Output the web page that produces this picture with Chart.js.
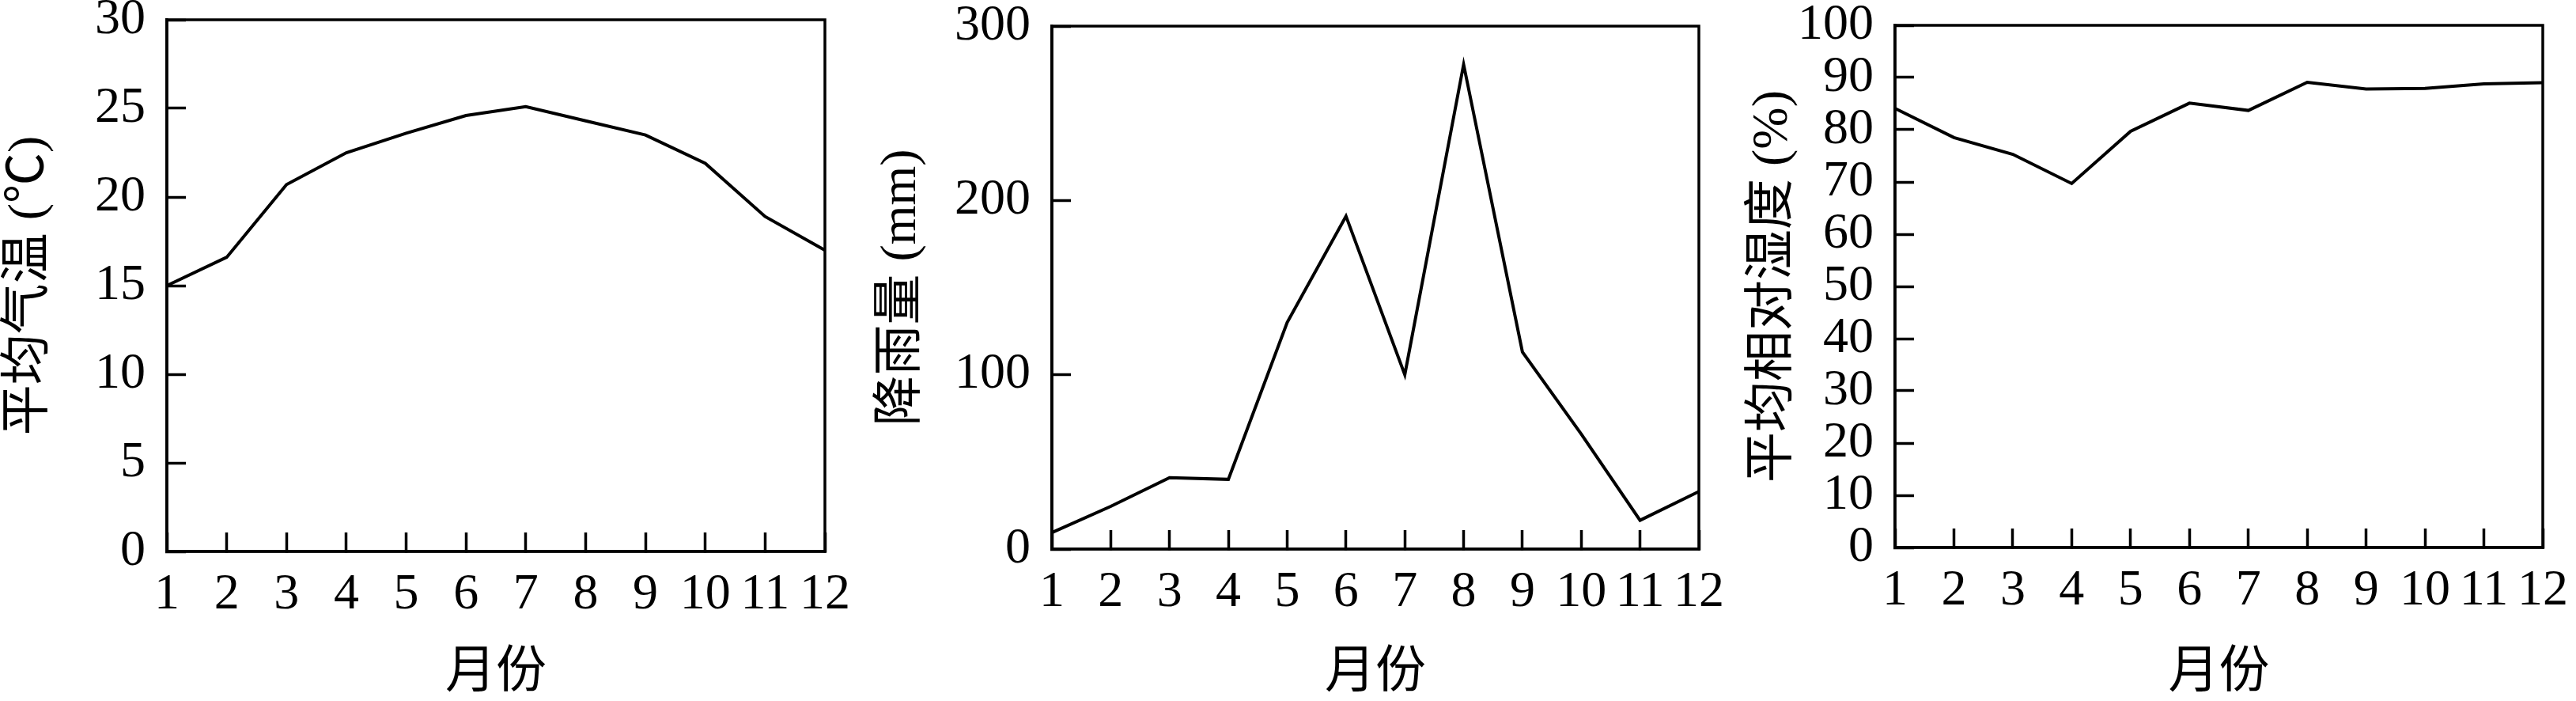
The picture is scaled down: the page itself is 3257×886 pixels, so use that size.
<!DOCTYPE html>
<html>
<head>
  <meta charset="utf-8">
  <title>月份 气温 降雨量 相对湿度</title>
  <script src="https://cdn.jsdelivr.net/npm/chart.js@4.4.0/dist/chart.umd.min.js"></script>
  <style>
    html, body { margin: 0; padding: 0; background: #fff; }
    body { width: 3257px; height: 886px; position: relative; overflow: hidden; }
    canvas { position: absolute; top: 0; }
  </style>
</head>
<body>
  <canvas id="tempChart" width="1100" height="886" style="left:0px"></canvas>
  <canvas id="rainChart" width="1100" height="886" style="left:1100px"></canvas>
  <canvas id="humidChart" width="1077" height="886" style="left:2180px"></canvas>

  <script>
    // 数据
    const months = ['1', '2', '3', '4', '5', '6', '7', '8', '9', '10', '11', '12'];
    const temperature = [15.0, 16.6, 20.7, 22.5, 23.6, 24.6, 25.1, 24.3, 23.5, 21.9, 18.9, 17.0];
    const rainfall = [9.5, 24.5, 41, 40, 130, 191, 100, 278, 113, 66, 16.5, 33];
    const humidity = [84.1, 78.5, 75.3, 69.7, 79.7, 85.1, 83.7, 89.1, 87.8, 87.9, 88.8, 89.0];

    const tempAxis = { min: 0, max: 30, step: 5 };
    const rainAxis = { min: 0, max: 300, step: 100 };
    const humidAxis = { min: 0, max: 100, step: 10 };

    const serif = "'Liberation Serif', 'Times New Roman', 'Noto Sans CJK SC', serif";

    Chart.defaults.font.family = serif;
    Chart.defaults.color = '#000';

    // 外框
    const frame = {
      id: 'frame',
      afterDraw(chart) {
        const a = chart.chartArea;
        const ctx = chart.ctx;
        ctx.save();
        ctx.strokeStyle = '#000';
        ctx.lineWidth = 3.5;
        ctx.strokeRect(a.left, a.top, a.right - a.left, a.bottom - a.top);
        ctx.restore();
      }
    };

    function makeChart(id, values, axis, yTitle, box) {
      return new Chart(document.getElementById(id), {
        type: 'line',
        data: {
          labels: months,
          datasets: [{
            data: values,
            borderColor: '#000',
            borderWidth: 4,
            pointRadius: 0,
            tension: 0,
            fill: false
          }]
        },
        options: {
          responsive: false,
          animation: false,
          devicePixelRatio: 1,
          layout: { padding: { top: box.top, right: box.right, left: 0, bottom: 0 } },
          plugins: { legend: { display: false }, tooltip: { enabled: false } },
          scales: {
            x: {
              grid: { drawOnChartArea: false, drawTicks: true, tickLength: -24, tickWidth: 3.5, color: '#000' },
              border: { display: true, width: 3.5, color: '#000' },
              ticks: { autoSkip: false, maxRotation: 0, padding: 41, font: { size: 64 }, color: '#000' },
              title: {
                display: true, text: '月份', color: '#000',
                font: { size: 64, lineHeight: 1.1, family: serif },
                padding: { top: 0, bottom: 0 }
              },
              afterFit(s) { s.height = box.xHeight; s.paddingLeft = 0; s.paddingRight = 0; }
            },
            y: {
              min: axis.min,
              max: axis.max,
              grid: { drawOnChartArea: false, drawTicks: true, tickLength: -24, tickWidth: 3.5, color: '#000' },
              border: { display: true, width: 3.5, color: '#000' },
              ticks: { stepSize: axis.step, autoSkip: false, padding: 51, font: { size: 64 }, color: '#000' },
              title: {
                display: true, text: yTitle, color: '#000',
                font: { size: 64, lineHeight: 1.1, family: serif },
                padding: { top: box.titlePad, bottom: 0 }
              },
              afterFit(s) { s.width = box.yWidth; s.paddingTop = 0; s.paddingBottom = 0; }
            }
          }
        },
        plugins: [frame]
      });
    }

    makeChart('tempChart', temperature, tempAxis, '平均气温 (℃)',
      { top: 25, right: 57, xHeight: 189, yWidth: 211, titlePad: 2 });
    makeChart('rainChart', rainfall, rainAxis, '降雨量 (mm)',
      { top: 33, right: 52, xHeight: 192, yWidth: 230, titlePad: 5 });
    makeChart('humidChart', humidity, humidAxis, '平均相对湿度 (%)',
      { top: 32, right: 42, xHeight: 194, yWidth: 216, titlePad: 27 });
  </script>
</body>
</html>
